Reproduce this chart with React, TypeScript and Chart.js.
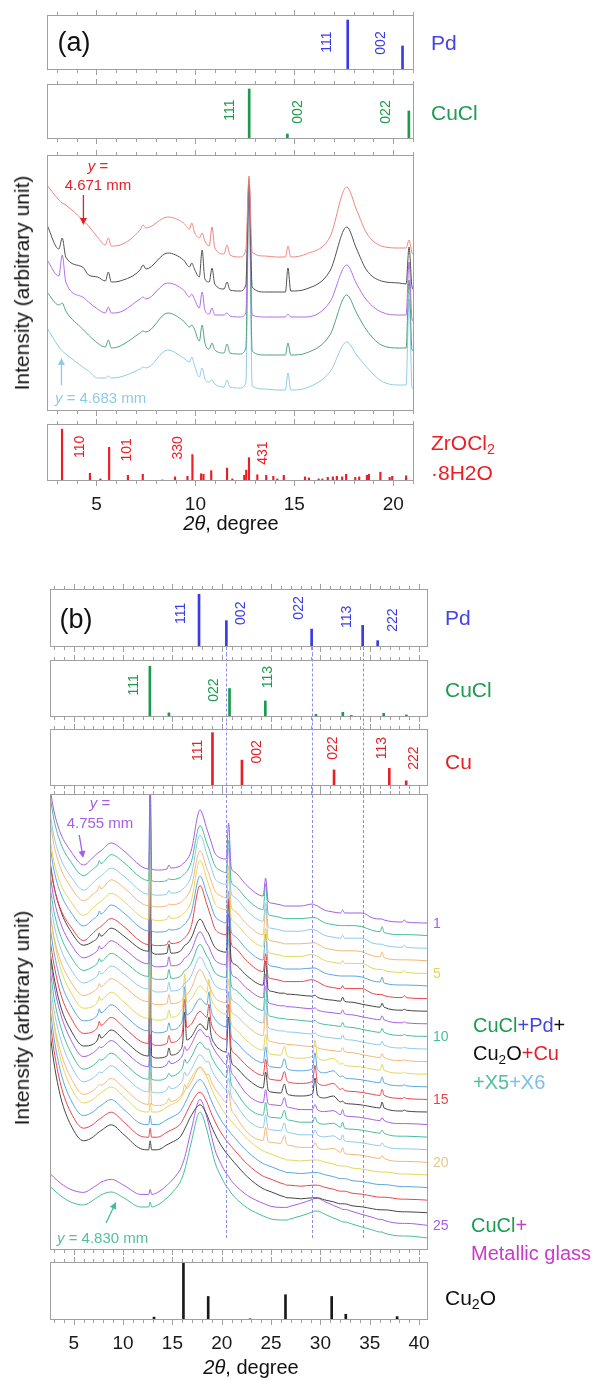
import React, { useEffect, useRef } from 'react';
import { Chart, registerables } from 'chart.js';

Chart.register(...registerables);

const FONT = '"Liberation Sans", Arial, Helvetica, sans-serif';
const PAGE_W = 616;
const PAD = 10;
const AXIS_H = 40;

const PD_COLOR = '#3b3be6';
const CUCL_COLOR = '#1c9a4e';
const CU_COLOR = '#e52128';
const ZR_COLOR = '#ee1d25';
const CU2O_COLOR = '#1a1a1a';
const FRAME_COLOR = '#a0a0a0';
const DASH_COLOR = '#8c8cf0';

// ================= Panel (a) =================
const A_X_MIN = 2.5;
const A_X_MAX = 21.05;
const A_TICKS = [5, 10, 15, 20];

const A_PD_POS = [17.7, 20.47];
const A_PD_INT = [100, 48];
const A_PD_HKL = ['111', '002'];
const A_PD_HKL_AT = [[16.67, 56], [19.39, 54]];

const A_CUCL_POS = [12.72, 14.65, 20.79];
const A_CUCL_INT = [100, 10, 56];
const A_CUCL_HKL = ['111', '002', '022'];
const A_CUCL_HKL_AT = [[11.77, 58], [15.2, 54], [19.65, 54]];

const A_ZR_POS = [3.26, 4.67, 5.2, 5.64, 6.59, 7.34, 8.33, 8.97, 9.6, 9.85, 10.29, 10.41, 10.8, 11.6, 11.87, 12.47, 12.57, 12.71, 13.13, 13.58, 13.94, 14.14, 14.47, 15.54, 15.74, 16.23, 16.42, 16.69, 16.95, 17.15, 17.42, 17.62, 18.08, 18.28, 18.67, 18.77, 19.35, 19.82, 19.95, 20.65];
const A_ZR_INT = [100, 15, 4, 65, 11, 13, 2, 8, 9, 51, 14, 13, 20, 25, 4, 11, 21, 45, 12, 11, 9, 4, 11, 8, 6, 4, 4, 7, 8, 9, 8, 13, 7, 8, 11, 13, 17, 7, 9, 10];
const A_ZR_HKL = ['110', '101', '330', '431'];
const A_ZR_HKL_AT = [[4.19, 66], [6.57, 60], [9.14, 64], [13.43, 54]];

const A_X = [2.5, 3.1, 3.27, 3.45, 4.3, 4.6, 5.05, 5.45, 5.6, 5.75, 6.2, 7.2, 7.36, 7.5, 8.6, 9.4, 9.7, 9.82, 9.95, 10.2, 10.34, 10.48, 10.7, 10.84, 10.98, 11.45, 11.6, 11.75, 12.25, 12.55, 12.71, 12.87, 13.5, 14.1, 14.55, 14.68, 14.82, 15.6, 16.8, 17.65, 18.15, 18.65, 19.4, 20.3, 20.65, 20.8, 20.95, 21.05];
const A_RED = [71, 56, 53, 51, 36, 30, 19, 11, 18, 10, 11, 26, 31, 28, 39, 33, 27, 33, 24, 18, 23, 15, 10, 29, 8, 2, 11, 1, -1, 6, 80, 4, 0, -1, -1, 10, -1, 2, 19, 69, 46, 23, 10, 8, 8, 16, 3, 1];
const A_BLACK = [64, 40, 51, 32, 22, 14, 12, 8, 17, 7, 8, 19, 24, 20, 36, 29, 22, 26, 20, 12, 39, 10, 7, 21, 5, 0, 7, -1, -2, 4, 110, 2, -3, -3, -3, 21, -2, 0, 18, 62, 40, 19, 8, 6, 5, 42, 2, -1];
const A_PURPLE = [62, 46, 67, 40, 25, 20, 13, 9, 15, 9, 10, 23, 25, 23, 39, 32, 25, 28, 23, 14, 30, 12, 8, 14, 7, 7, 9, 6, 5, 9, 140, 7, 5, 5, 5, 8, 5, 5, 20, 57, 38, 22, 10, 7, 7, 60, 3, 0];
const A_GREEN = [63, 50, 52, 44, 26, 20, 12, 8, 15, 7, 9, 22, 24, 23, 42, 34, 28, 30, 26, 14, 30, 12, 6, 12, 5, 2, 11, 2, 1, 7, 165, 4, 0, 0, 0, 12, 0, 2, 20, 60, 42, 25, 10, 7, 7, 75, 5, 4];
const A_BLUE = [61, 42, 38, 35, 22, 18, 11, 11, 13, 11, 12, 20, 22, 21, 39, 31, 27, 32, 24, 12, 21, 10, 7, 9, 5, 2, 9, 2, 1, 6, 200, 3, 0, -1, -1, 16, -1, 1, 17, 47, 34, 22, 8, 4, 4, 90, 2, 0];
const A_SERIES = [A_RED, A_BLACK, A_PURPLE, A_GREEN, A_BLUE];
const A_OFFSETS = [155, 122, 89, 56, 22];
const A_COLORS = ['#f0857f', '#505050', '#b36ee6', '#4fa37e', '#8fcbe9'];

// ================= Panel (b) =================
const B_X_MIN = 2.6;
const B_X_MAX = 40.9;
const B_TICKS = [5, 10, 15, 20, 25, 30, 35, 40];
const B_DASH_AT = [20.47, 29.11, 34.28];

const B_PD_POS = [17.7, 20.47, 29.11, 34.28, 35.8];
const B_PD_INT = [100, 50, 34, 41, 12];
const B_PD_HKL = ['111', '002', '022', '113', '222'];
const B_PD_HKL_AT = [[15.84, 64], [22.0, 64], [27.84, 74], [32.68, 57], [37.32, 51]];

const B_CUCL_POS = [12.72, 14.65, 20.79, 24.42, 29.55, 32.27, 33.13, 36.41, 38.71];
const B_CUCL_INT = [98, 8, 55, 31, 5, 9, 3, 7, 4];
const B_CUCL_HKL = ['111', '022', '113'];
const B_CUCL_HKL_AT = [[11.1, 62], [19.27, 52], [24.71, 77]];

const B_CU_POS = [19.06, 22.05, 31.38, 36.98, 38.69];
const B_CU_INT = [103, 50, 31, 34, 10];
const B_CU_HKL = ['111', '002', '022', '113', '222'];
const B_CU_HKL_AT = [[17.56, 69], [23.6, 66], [31.27, 73], [36.3, 73], [39.5, 54]];

const B_CU2O_POS = [13.14, 16.12, 18.63, 22.87, 26.46, 31.14, 32.57, 37.77];
const B_CU2O_INT = [5, 100, 41, 2, 44, 41, 10, 6];

const B_X = [2.6, 3.0, 3.7, 4.7, 6.0, 7.0, 7.45, 7.6, 7.75, 8.8, 10.1, 11.8, 12.6, 12.75, 12.9, 13.5, 14.45, 14.65, 14.85, 15.8, 16.05, 16.25, 16.45, 16.9, 17.8, 18.5, 18.7, 18.9, 19.3, 19.9, 20.45, 20.7, 20.95, 21.3, 22.6, 24.2, 24.45, 24.7, 25.0, 26.0, 26.35, 26.6, 26.9, 28.0, 29.2, 29.45, 29.7, 30.4, 31.3, 32.05, 32.25, 32.45, 33.2, 34.2, 35.3, 36.05, 36.25, 36.45, 38.3, 38.5, 38.7, 40.9];
const B_PROF_A1 = [135, 112, 89, 72, 58, 66, 70, 71, 72, 80, 72, 57, 54, 150, 54, 53, 54, 58, 55, 57, 59, 61, 63, 72, 113, 94, 88, 82, 70, 65, 64, 100, 56, 51, 37, 27, 45, 22, 20, 18, 17, 17, 17, 17, 19, 18, 17, 13, 11, 10, 13, 10, 10, 10, 5, 4, 4, 3, 1, 3, 1, 0];
const B_PROF_A2 = [140, 116, 92, 74, 60, 67, 71, 75, 72, 81, 73, 58, 55, 150, 55, 54, 55, 57, 56, 58, 60, 62, 64, 73, 110, 92, 87, 81, 70, 65, 63, 95, 55, 50, 36, 26, 52, 22, 20, 18, 17, 17, 17, 17, 18, 18, 17, 13, 11, 10, 10, 10, 10, 9, 5, 4, 9, 3, 1, 1, 1, 0];
const B_PROF_B = [150, 125, 100, 80, 66, 70, 74, 78, 75, 83, 75, 62, 60, 180, 59, 57, 58, 67, 58, 60, 63, 66, 67, 73, 92, 80, 77, 72, 64, 60, 59, 110, 52, 47, 35, 26, 50, 22, 20, 18, 18, 17, 17, 16, 15, 16, 14, 12, 11, 10, 14, 10, 9, 7, 5, 4, 8, 4, 1, 2, 1, 0];
const B_PROF_C = [160, 135, 105, 82, 66, 68, 73, 78, 74, 82, 72, 58, 56, 160, 56, 54, 56, 64, 57, 62, 70, 100, 72, 75, 88, 82, 95, 78, 68, 62, 60, 95, 52, 46, 33, 24, 40, 22, 20, 19, 28, 19, 17, 16, 18, 34, 17, 14, 16, 10, 11, 9, 8, 7, 5, 4, 10, 4, 1, 2, 1, 0];
const B_PROF_D = [170, 140, 110, 85, 68, 72, 76, 78, 77, 84, 74, 60, 58, 90, 58, 57, 60, 64, 61, 66, 70, 78, 74, 80, 95, 88, 88, 82, 74, 66, 60, 72, 54, 48, 30, 22, 35, 21, 20, 19, 27, 18, 17, 15, 15, 20, 15, 13, 14, 10, 15, 9, 8, 7, 5, 4, 7, 4, 1, 1, 1, 0];
const B_PROF_E = [180, 150, 115, 88, 72, 76, 80, 81, 82, 88, 78, 64, 63, 72, 63, 63, 68, 69, 70, 76, 80, 84, 88, 97, 108, 98, 93, 88, 79, 68, 60, 57, 54, 50, 36, 24, 23, 22, 21, 17, 16, 15, 15, 14, 15, 15, 15, 13, 11, 9, 9, 9, 7, 6, 4, 3, 3, 3, 1, 1, 1, 0];
const B_PROF_F = [52, 48, 42, 36, 33, 38, 41, 42, 43, 46, 40, 31, 31, 36, 31, 33, 40, 42, 44, 56, 62, 68, 76, 95, 126, 108, 100, 92, 76, 62, 52, 49, 45, 41, 30, 22, 21, 20, 19, 18, 18, 18, 19, 22, 26, 27, 27, 24, 20, 17, 16, 16, 14, 11, 8, 6, 6, 5, 2, 2, 2, 0];
const B_PROFILES: any = { A1: B_PROF_A1, A2: B_PROF_A2, B: B_PROF_B, C: B_PROF_C, D: B_PROF_D, E: B_PROF_E, F: B_PROF_F };
const B_CURVE_PROFILE = ['A1', 'A2', 'A1', 'A2', 'A1', 'A2', 'A1', 'B', 'B', 'B', 'B', 'B', 'C', 'C', 'C', 'C', 'D', 'D', 'D', 'D', 'E', 'E', 'E', 'E', 'F', 'F'];
const B_OFFSETS = [327, 314.4, 301.8, 289.2, 276.6, 264, 251.4, 238.8, 226.2, 213.6, 201, 188.4, 175.8, 163.2, 150.6, 138, 125.4, 112.8, 100.2, 87.6, 75, 62.4, 49.8, 37.2, 24.6, 12];
const B_PALETTE = ['#a45ee5', '#45bd9b', '#8ec9ea', '#f1b877', '#e3d65a', '#5aa6de', '#e8444a', '#444444'];
const B_CURVE_LABELS = ['1', '5', '10', '15', '20', '25'];
const B_CURVE_LABEL_INDEX = [0, 4, 9, 14, 19, 24];

// ================= helpers =================
function sticks(pos: number[], int: number[], color: string, thick: number) {
  return [{
    data: pos.map((x, i) => ({ x, y: int[i] })),
    backgroundColor: color,
    borderWidth: 0,
    barThickness: thick,
    grouped: false,
  }];
}

function curves(xs: number[], series: number[][], offsets: number[], colors: string[]) {
  return series.map((s, k) => ({
    data: xs.map((x, i) => ({ x, y: s[i] + offsets[k] })),
    borderColor: colors[k],
    borderWidth: 1,
    pointRadius: 0,
    fill: false,
    cubicInterpolationMode: 'monotone',
  }));
}

const B_SERIES = B_CURVE_PROFILE.map((p) => B_PROFILES[p]);
const B_COLORS = B_CURVE_PROFILE.map((_, k) => B_PALETTE[k % B_PALETTE.length]);

const A_FRAME = { left: 47, right: 414 };
const B_FRAME = { left: 50, right: 428 };

const PANELS: any[] = [
  { key: 'aPd', kind: 'bar', ...A_FRAME, top: 15, bottom: 70, xMin: A_X_MIN, xMax: A_X_MAX, yMax: 110,
    datasets: sticks(A_PD_POS, A_PD_INT, PD_COLOR, 2), hkl: A_PD_HKL, hklAt: A_PD_HKL_AT, hklColor: PD_COLOR },
  { key: 'aCuCl', kind: 'bar', ...A_FRAME, top: 84, bottom: 139, xMin: A_X_MIN, xMax: A_X_MAX, yMax: 110,
    datasets: sticks(A_CUCL_POS, A_CUCL_INT, CUCL_COLOR, 2), hkl: A_CUCL_HKL, hklAt: A_CUCL_HKL_AT, hklColor: CUCL_COLOR },
  { key: 'aMain', kind: 'line', ...A_FRAME, top: 155, bottom: 411, xMin: A_X_MIN, xMax: A_X_MAX, yMax: 256,
    datasets: curves(A_X, A_SERIES, A_OFFSETS, A_COLORS),
    arrows: [{ from: [4.34, 216], to: [4.34, 186], color: '#e52128' }, { from: [3.23, 26], to: [3.23, 53], color: '#8fcbe9' }] },
  { key: 'aZr', kind: 'bar', ...A_FRAME, top: 424, bottom: 481, xMin: A_X_MIN, xMax: A_X_MAX, yMax: 110,
    datasets: sticks(A_ZR_POS, A_ZR_INT, ZR_COLOR, 1.5), hkl: A_ZR_HKL, hklAt: A_ZR_HKL_AT, hklColor: ZR_COLOR, ticks: A_TICKS },

  { key: 'bPd', kind: 'bar', ...B_FRAME, top: 589, bottom: 647, xMin: B_X_MIN, xMax: B_X_MAX, yMax: 110, dash: 'first',
    datasets: sticks(B_PD_POS, B_PD_INT, PD_COLOR, 2), hkl: B_PD_HKL, hklAt: B_PD_HKL_AT, hklColor: PD_COLOR },
  { key: 'bCuCl', kind: 'bar', ...B_FRAME, top: 660, bottom: 717, xMin: B_X_MIN, xMax: B_X_MAX, yMax: 110, dash: 'mid',
    datasets: sticks(B_CUCL_POS, B_CUCL_INT, CUCL_COLOR, 2), hkl: B_CUCL_HKL, hklAt: B_CUCL_HKL_AT, hklColor: CUCL_COLOR },
  { key: 'bCu', kind: 'bar', ...B_FRAME, top: 729, bottom: 786, xMin: B_X_MIN, xMax: B_X_MAX, yMax: 110, dash: 'mid',
    datasets: sticks(B_CU_POS, B_CU_INT, CU_COLOR, 2), hkl: B_CU_HKL, hklAt: B_CU_HKL_AT, hklColor: CU_COLOR },
  { key: 'bMain', kind: 'line', ...B_FRAME, top: 794, bottom: 1250, xMin: B_X_MIN, xMax: B_X_MAX, yMax: 456, dash: 'last',
    datasets: curves(B_X, B_SERIES, B_OFFSETS, B_COLORS),
    arrows: [{ from: [5.56, 415], to: [5.96, 392], color: '#a45ee5' }, { from: [8.28, 27], to: [9.29, 48], color: '#45bd9b' }] },
  { key: 'bCu2O', kind: 'bar', ...B_FRAME, top: 1262, bottom: 1320, xMin: B_X_MIN, xMax: B_X_MAX, yMax: 101,
    datasets: sticks(B_CU2O_POS, B_CU2O_INT, CU2O_COLOR, 2), ticks: B_TICKS },
];

function decoPlugin(spec: any) {
  return {
    id: 'deco_' + spec.key,
    afterDatasetsDraw(chart: any) {
      const { ctx, chartArea: ca, scales } = chart;
      const xs = scales.x;
      const ys = scales.y;
      ctx.save();
      if (spec.dash) {
        let y0 = ca.top - 6.5;
        let y1 = ca.bottom + 6.5;
        if (spec.dash === 'first') y0 = ca.bottom;
        if (spec.dash === 'last') { y0 = ca.top - 4; y1 = ca.bottom - 12; }
        ctx.strokeStyle = DASH_COLOR;
        ctx.lineWidth = 1;
        ctx.setLineDash([3, 2]);
        for (const v of B_DASH_AT) {
          const px = Math.round(xs.getPixelForValue(v)) + 0.5;
          ctx.beginPath();
          ctx.moveTo(px, y0);
          ctx.lineTo(px, y1);
          ctx.stroke();
        }
        ctx.setLineDash([]);
      }
      ctx.strokeStyle = FRAME_COLOR;
      ctx.lineWidth = 1;
      ctx.strokeRect(ca.left + 0.5, ca.top + 0.5, ca.right - ca.left - 1, ca.bottom - ca.top - 1);
      ctx.beginPath();
      for (let v = Math.ceil(spec.xMin); v <= spec.xMax; v++) {
        const px = Math.round(xs.getPixelForValue(v)) + 0.5;
        const len = v % 5 === 0 ? 5 : 3;
        ctx.moveTo(px, ca.top);
        ctx.lineTo(px, ca.top - len);
        ctx.moveTo(px, ca.bottom);
        ctx.lineTo(px, ca.bottom + len);
      }
      ctx.stroke();
      if (spec.hkl) {
        ctx.font = '14px ' + FONT;
        ctx.fillStyle = spec.hklColor;
        ctx.textAlign = 'center';
        ctx.textBaseline = 'middle';
        spec.hkl.forEach((t: string, i: number) => {
          const px = xs.getPixelForValue(spec.hklAt[i][0]);
          const py = ys.getPixelForValue(spec.hklAt[i][1]);
          ctx.save();
          ctx.translate(px, py);
          ctx.rotate(-Math.PI / 2);
          ctx.fillText(t, 0, 0);
          ctx.restore();
        });
      }
      for (const a of spec.arrows || []) {
        const x0 = xs.getPixelForValue(a.from[0]);
        const y0 = ys.getPixelForValue(a.from[1]);
        const x1 = xs.getPixelForValue(a.to[0]);
        const y1 = ys.getPixelForValue(a.to[1]);
        const ang = Math.atan2(y1 - y0, x1 - x0);
        const c = Math.cos(ang);
        const s = Math.sin(ang);
        ctx.strokeStyle = a.color;
        ctx.fillStyle = a.color;
        ctx.lineWidth = 1.3;
        ctx.beginPath();
        ctx.moveTo(x0, y0);
        ctx.lineTo(x1 - 6 * c, y1 - 6 * s);
        ctx.stroke();
        ctx.beginPath();
        ctx.moveTo(x1, y1);
        ctx.lineTo(x1 - 7 * c + 3.5 * s, y1 - 7 * s - 3.5 * c);
        ctx.lineTo(x1 - 7 * c - 3.5 * s, y1 - 7 * s + 3.5 * c);
        ctx.closePath();
        ctx.fill();
      }
      ctx.restore();
    },
  };
}

function canvasHeight(spec: any) {
  const h = spec.bottom - spec.top;
  return spec.ticks ? h + PAD + AXIS_H : h + 2 * PAD;
}

function Panel({ spec }: any) {
  const ref = useRef<HTMLCanvasElement | null>(null);
  useEffect(() => {
    const xScale: any = {
      type: 'linear',
      min: spec.xMin,
      max: spec.xMax,
      offset: false,
      display: !!spec.ticks,
      grid: { display: false, drawTicks: false },
      border: { display: false },
      ticks: { font: { family: FONT, size: 19 }, color: '#1a1a1a', padding: 12, maxRotation: 0, autoSkip: false },
    };
    if (spec.ticks) {
      xScale.afterBuildTicks = (s: any) => { s.ticks = spec.ticks.map((v: number) => ({ value: v })); };
      xScale.afterFit = (s: any) => { s.height = AXIS_H; };
    }
    const chart = new Chart(ref.current as HTMLCanvasElement, {
      type: spec.kind,
      data: { datasets: spec.datasets },
      options: {
        responsive: false,
        animation: false,
        devicePixelRatio: 1,
        events: [],
        layout: { padding: { left: spec.left, right: PAGE_W - spec.right, top: PAD, bottom: spec.ticks ? 0 : PAD } },
        plugins: { legend: { display: false }, tooltip: { enabled: false } },
        scales: {
          x: xScale,
          y: { type: 'linear', min: 0, max: spec.yMax, display: false },
        },
      } as any,
      plugins: [decoPlugin(spec)],
    } as any);
    return () => chart.destroy();
  }, []);
  const h = canvasHeight(spec);
  return (
    <canvas
      ref={ref}
      width={PAGE_W}
      height={h}
      style={{ position: 'absolute', left: 0, top: spec.top - PAD, width: PAGE_W, height: h }}
    />
  );
}

function Txt({ x, y, anchor = 'left', size = 20, color = '#111', rotate = false, children, style }: any) {
  let transform = anchor === 'center' ? 'translate(-50%,-50%)' : 'translate(0,-50%)';
  if (rotate) transform = 'translate(-50%,-50%) rotate(-90deg)';
  return (
    <div style={{ position: 'absolute', left: x, top: y, transform, fontSize: size, color, fontFamily: FONT, whiteSpace: 'nowrap', lineHeight: 1.15, ...style }}>
      {children}
    </div>
  );
}

const Sub = ({ children }: any) => (
  <span style={{ fontSize: '0.68em', position: 'relative', top: '0.3em' }}>{children}</span>
);

export default function App() {
  return (
    <div style={{ position: 'absolute', left: 0, top: 0, width: PAGE_W, height: 1381, background: '#fff', overflow: 'hidden', fontFamily: FONT }}>
      {PANELS.map((p) => <Panel key={p.key} spec={p} />)}

      {/* panel (a) */}
      <Txt x={74} y={43} anchor="center" size={27}>(a)</Txt>
      <Txt x={431} y={43} size={21} color="#4343e6">Pd</Txt>
      <Txt x={431} y={113} size={21} color="#1e9b52">CuCl</Txt>
      <Txt x={22} y={283} rotate size={21}>Intensity (arbitrary unit)</Txt>
      <Txt x={98} y={166} anchor="center" size={15} color="#e52128"><i>y</i> =</Txt>
      <Txt x={98} y={185} anchor="center" size={15} color="#e52128">4.671 mm</Txt>
      <Txt x={55} y={398} size={15} color="#8ccbec"><i>y</i> = 4.683 mm</Txt>
      <Txt x={431} y={443} size={21} color="#ee1d25">ZrOCl<Sub>2</Sub></Txt>
      <Txt x={431} y={473} size={21} color="#ee1d25">·8H2O</Txt>
      <Txt x={231} y={523} anchor="center" size={20}><i>2θ</i>, degree</Txt>

      {/* panel (b) */}
      <Txt x={76} y={620} anchor="center" size={27}>(b)</Txt>
      <Txt x={445} y={618} size={21} color="#4343e6">Pd</Txt>
      <Txt x={445} y={690} size={21} color="#1e9b52">CuCl</Txt>
      <Txt x={445} y={762} size={21} color="#e52128">Cu</Txt>
      <Txt x={100} y={803} anchor="center" size={15} color="#a45ee5"><i>y</i> =</Txt>
      <Txt x={100} y={823} anchor="center" size={15} color="#a45ee5">4.755 mm</Txt>
      <Txt x={22} y={1018} rotate size={21}>Intensity (arbitrary unit)</Txt>
      {B_CURVE_LABELS.map((t, i) => (
        <Txt key={t} x={433} y={1250 - B_OFFSETS[B_CURVE_LABEL_INDEX[i]]} size={14}
          color={i === 4 ? '#e8c98a' : B_PALETTE[B_CURVE_LABEL_INDEX[i] % B_PALETTE.length]}>{t}</Txt>
      ))}
      <Txt x={473} y={1025} size={20}>
        <span style={{ color: '#1e9b52' }}>CuCl</span><span style={{ color: '#4343e6' }}>+Pd</span><span style={{ color: '#111' }}>+</span>
      </Txt>
      <Txt x={473} y={1053} size={20}>
        <span style={{ color: '#111' }}>Cu<Sub>2</Sub>O</span><span style={{ color: '#e52128' }}>+Cu</span>
      </Txt>
      <Txt x={473} y={1082} size={20}>
        <span style={{ color: '#52bf9f' }}>+X5</span><span style={{ color: '#7dbfe8' }}>+X6</span>
      </Txt>
      <Txt x={471} y={1225} size={20}>
        <span style={{ color: '#1e9b52' }}>CuCl</span><span style={{ color: '#c93bc9' }}>+</span>
      </Txt>
      <Txt x={471} y={1253} size={20} color="#c93bc9">Metallic glass</Txt>
      <Txt x={57} y={1238} size={15} color="#52bf9f"><i>y</i> = 4.830 mm</Txt>
      <Txt x={445} y={1298} size={21} color="#111">Cu<Sub>2</Sub>O</Txt>
      <Txt x={251} y={1367} anchor="center" size={20}><i>2θ</i>, degree</Txt>
    </div>
  );
}
